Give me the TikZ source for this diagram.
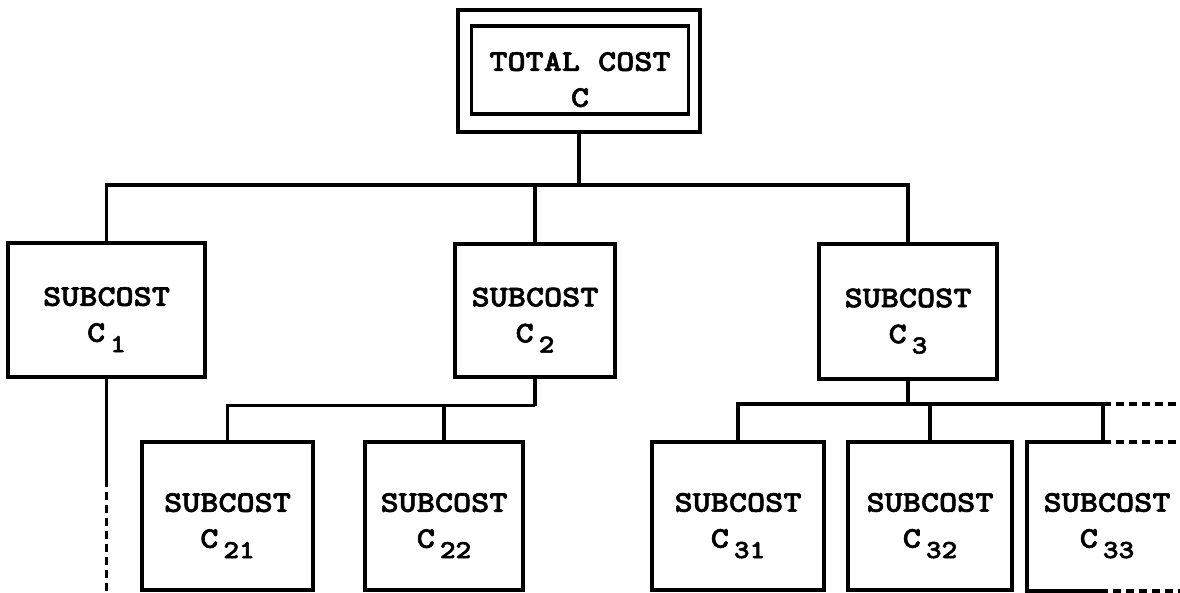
\documentclass[tikz,border=0pt]{standalone}
\usepackage{fontspec}
\newfontfamily\typew[FakeStretch=1.15,FakeBold=2]{lmmonolt10-bold.otf}
\usetikzlibrary{positioning}
\newcommand{\csub}[1]{C\,\raisebox{-0.8ex}{\fontsize{13}{13}\selectfont #1}}
\newcommand{\twol}[2]{\rule{0pt}{19pt}#1\\#2}
\tikzset{
  cbox/.style={draw,line width=1.7pt,align=center,inner sep=0pt,font=\typew\fontsize{15}{18}\selectfont},
  ln/.style={line width=1.7pt},
  dln/.style={ln,dash pattern=on 4pt off 2.5pt},
}
\begin{document}
\begin{tikzpicture}[x=0.5pt,y=0.5pt]
  \useasboundingbox (0,0) rectangle (1180,593);
  % total cost
  \node[cbox,minimum width=121pt,minimum height=61pt] (tframe) at (579,522) {};
  \node[cbox,minimum width=108.5pt,minimum height=44pt] (total) at (580,523) {\twol{TOTAL COST}{C}};
  % first level
  \node[cbox,minimum width=98.5pt,minimum height=67pt] (c1) at (106.5,283) {\twol{SUBCOST}{\csub{1}}};
  \node[cbox,minimum width=80pt,minimum height=66.5pt] (c2) at (535,282.5) {\twol{SUBCOST}{\csub{2}}};
  \node[cbox,minimum width=89pt,minimum height=67.5pt] (c3) at (908,281.5) {\twol{SUBCOST}{\csub{3}}};
  % second level
  \node[cbox,minimum width=85.5pt,minimum height=74pt] (c21) at (227.5,77) {\twol{SUBCOST}{\csub{21}}};
  \node[cbox,minimum width=79pt,minimum height=74pt] (c22) at (444,77) {\twol{SUBCOST}{\csub{22}}};
  \node[cbox,minimum width=86pt,minimum height=74pt] (c31) at (738,77) {\twol{SUBCOST}{\csub{31}}};
  \node[cbox,minimum width=82pt,minimum height=74pt] (c32) at (930,77) {\twol{SUBCOST}{\csub{32}}};
  \node[cbox,draw=none] (c33) at (1107,77) {\twol{SUBCOST}{\csub{33}}};
  \coordinate (bot) at (0,0);
  % links
  \coordinate (bus1) at (579,408);
  \draw[ln] (tframe.south) -- (bus1);
  \draw[ln] (c1.north) |- (bus1) -| (c3.north);
  \draw[ln] (bus1 -| c2.north) -- (c2.north);
  \draw[ln] (c1.south) -- ++(0,-100) coordinate (c1cut);
  \draw[dln] (c1cut) -- (c1cut |- bot);
  \draw[ln] (c2.south) -- ++(0,-27) coordinate (bus2);
  \draw[ln] (c21.north) |- (bus2);
  \draw[ln] (c22.north) -- (c22.north |- bus2);
  \draw[ln] (c3.south) -- ++(0,-25) coordinate (bus3);
  \coordinate (bus3e) at (1103,189);
  \draw[ln] (c31.north) |- (bus3e) -- ++(0,-38);
  \draw[ln] (c32.north) -- (c32.north |- bus3);
  \draw[dln] (bus3e) -- (1180,189);
  % open box on the right
  \draw[ln] (1103,151) -| (1027,2) -- (1100,2);
  \draw[dln] (1103,151) -- (1180,151);
  \draw[dln] (1100,2) -- (1180,2);
\end{tikzpicture}
\end{document}
